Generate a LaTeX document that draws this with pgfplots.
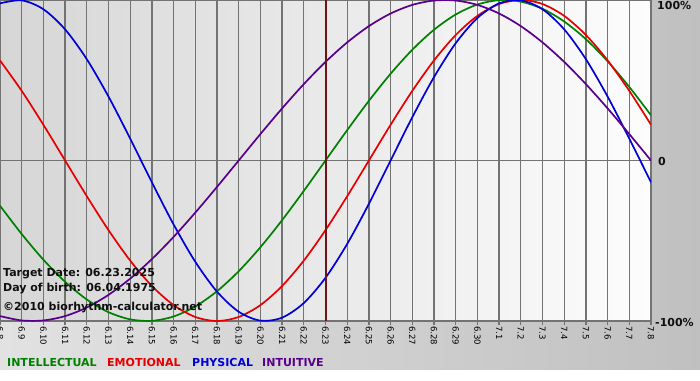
\documentclass[border=0pt]{standalone}
\usepackage{fontspec}
\setmainfont{DejaVu Sans}
\usepackage{pgfplots}
\usepackage{pgfplotstable}
\pgfplotsset{compat=1.18}
\usetikzlibrary{shadings}
\definecolor{cInt}{RGB}{0,128,0}
\definecolor{cEmo}{RGB}{232,0,0}
\definecolor{cPhy}{RGB}{0,0,215}
\definecolor{cItu}{RGB}{88,0,140}
\definecolor{cTarget}{RGB}{110,20,20}
\definecolor{gridgray}{RGB}{115,115,115}
\definecolor{bgL}{RGB}{226,226,226}
\definecolor{bgR}{RGB}{192,192,192}
\definecolor{plL}{RGB}{214,214,214}
\definecolor{plR}{RGB}{253,253,253}
\definecolor{txt}{RGB}{15,15,15}

% day index 0 = 6.8, 15 = 6.23 (target), 30 = 7.8
\pgfplotstableread{
d intel emo phys intu
0 -0.2817 0.6235 0.9791 -0.9694
1 -0.4582 0.4339 0.9977 -0.9966
2 -0.6182 0.2225 0.9423 -0.9966
3 -0.7557 0.0000 0.8170 -0.9694
4 -0.8660 -0.2225 0.6311 -0.9158
5 -0.9450 -0.4339 0.3984 -0.8372
6 -0.9898 -0.6235 0.1362 -0.7357
7 -0.9989 -0.7818 -0.1362 -0.6142
8 -0.9718 -0.9010 -0.3984 -0.4759
9 -0.9096 -0.9749 -0.6311 -0.3247
10 -0.8146 -1.0000 -0.8170 -0.1646
11 -0.6901 -0.9749 -0.9423 0.0000
12 -0.5406 -0.9010 -0.9977 0.1646
13 -0.3717 -0.7818 -0.9791 0.3247
14 -0.1893 -0.6235 -0.8879 0.4759
15 0.0000 -0.4339 -0.7308 0.6142
16 0.1893 -0.2225 -0.5196 0.7357
17 0.3717 0.0000 -0.2698 0.8372
18 0.5406 0.2225 0.0000 0.9158
19 0.6901 0.4339 0.2698 0.9694
20 0.8146 0.6235 0.5196 0.9966
21 0.9096 0.7818 0.7308 0.9966
22 0.9718 0.9010 0.8879 0.9694
23 0.9989 0.9749 0.9791 0.9158
24 0.9898 1.0000 0.9977 0.8372
25 0.9450 0.9749 0.9423 0.7357
26 0.8660 0.9010 0.8170 0.6142
27 0.7557 0.7818 0.6311 0.4759
28 0.6182 0.6235 0.3984 0.3247
29 0.4582 0.4339 0.1362 0.1646
30 0.2817 0.2225 -0.1362 0.0000
}\bio

\begin{document}
\begin{tikzpicture}[x=1pt,y=1pt]
\useasboundingbox (0,0) rectangle (700,380);
\shade[left color=bgL, right color=bgR] (0,10) rectangle (700,380);
\fill[white] (0,0) rectangle (700,10);
\begin{axis}[
  at={(0pt,59pt)}, anchor=south west,
  scale only axis, width=651pt, height=321pt,
  xmin=0, xmax=30, ymin=-1, ymax=1,
  axis background/.style={left color=plL, right color=plR},
  xtick={0,...,30},
  xticklabels={6.8,6.9,6.10,6.11,6.12,6.13,6.14,6.15,6.16,6.17,6.18,6.19,6.20,6.21,6.22,6.23,6.24,6.25,6.26,6.27,6.28,6.29,6.30,7.1,7.2,7.3,7.4,7.5,7.6,7.7,7.8},
  ytick={0}, yticklabels={},
  xmajorgrids, ymajorgrids,
  grid style={draw=gridgray, line width=1.3pt},
  axis line style={draw=gridgray, line width=1.3pt},
  tick align=outside, xtick pos=bottom,
  major tick length=4pt,
  xtick style={draw=gridgray, line width=1.3pt},
  ytick style={draw=none},
  xticklabel style={rotate=-90, anchor=west, font=\fontsize{8.5}{9}\selectfont, inner sep=1pt, text=black},
  clip=true,
]
\addplot[cInt, line width=1.7pt, smooth] table[x=d, y=intel] {\bio};
\addplot[cEmo, line width=1.7pt, smooth] table[x=d, y=emo] {\bio};
\addplot[cPhy, line width=1.7pt, smooth] table[x=d, y=phys] {\bio};
\addplot[cItu, line width=1.7pt, smooth] table[x=d, y=intu] {\bio};
\addplot[cTarget, line width=2pt] coordinates {(15,-1) (15,1)};
\end{axis}
\begin{scope}[every node/.style={inner sep=0pt, font=\bfseries\fontsize{11}{11}\selectfont, text=txt}]
\node[anchor=base west] at (657,370) {100\%};
\node[anchor=west] at (658,219) {0};
\node[anchor=west] at (655,58) {-100\%};
\node[anchor=base west] at (3,103) {Target Date: 06.23.2025};
\node[anchor=base west] at (3,89) {Day of birth: 06.04.1975};
\node[anchor=base west] at (3,69.5) {©2010 biorhythm-calculator.net};
\node[anchor=base west, text=cInt] at (7,13.5) {INTELLECTUAL};
\node[anchor=base west, text=cEmo] at (107,13.5) {EMOTIONAL};
\node[anchor=base west, text=cPhy] at (192,13.5) {PHYSICAL};
\node[anchor=base west, text=cItu] at (262,13.5) {INTUITIVE};
\end{scope}
\end{tikzpicture}
\end{document}
